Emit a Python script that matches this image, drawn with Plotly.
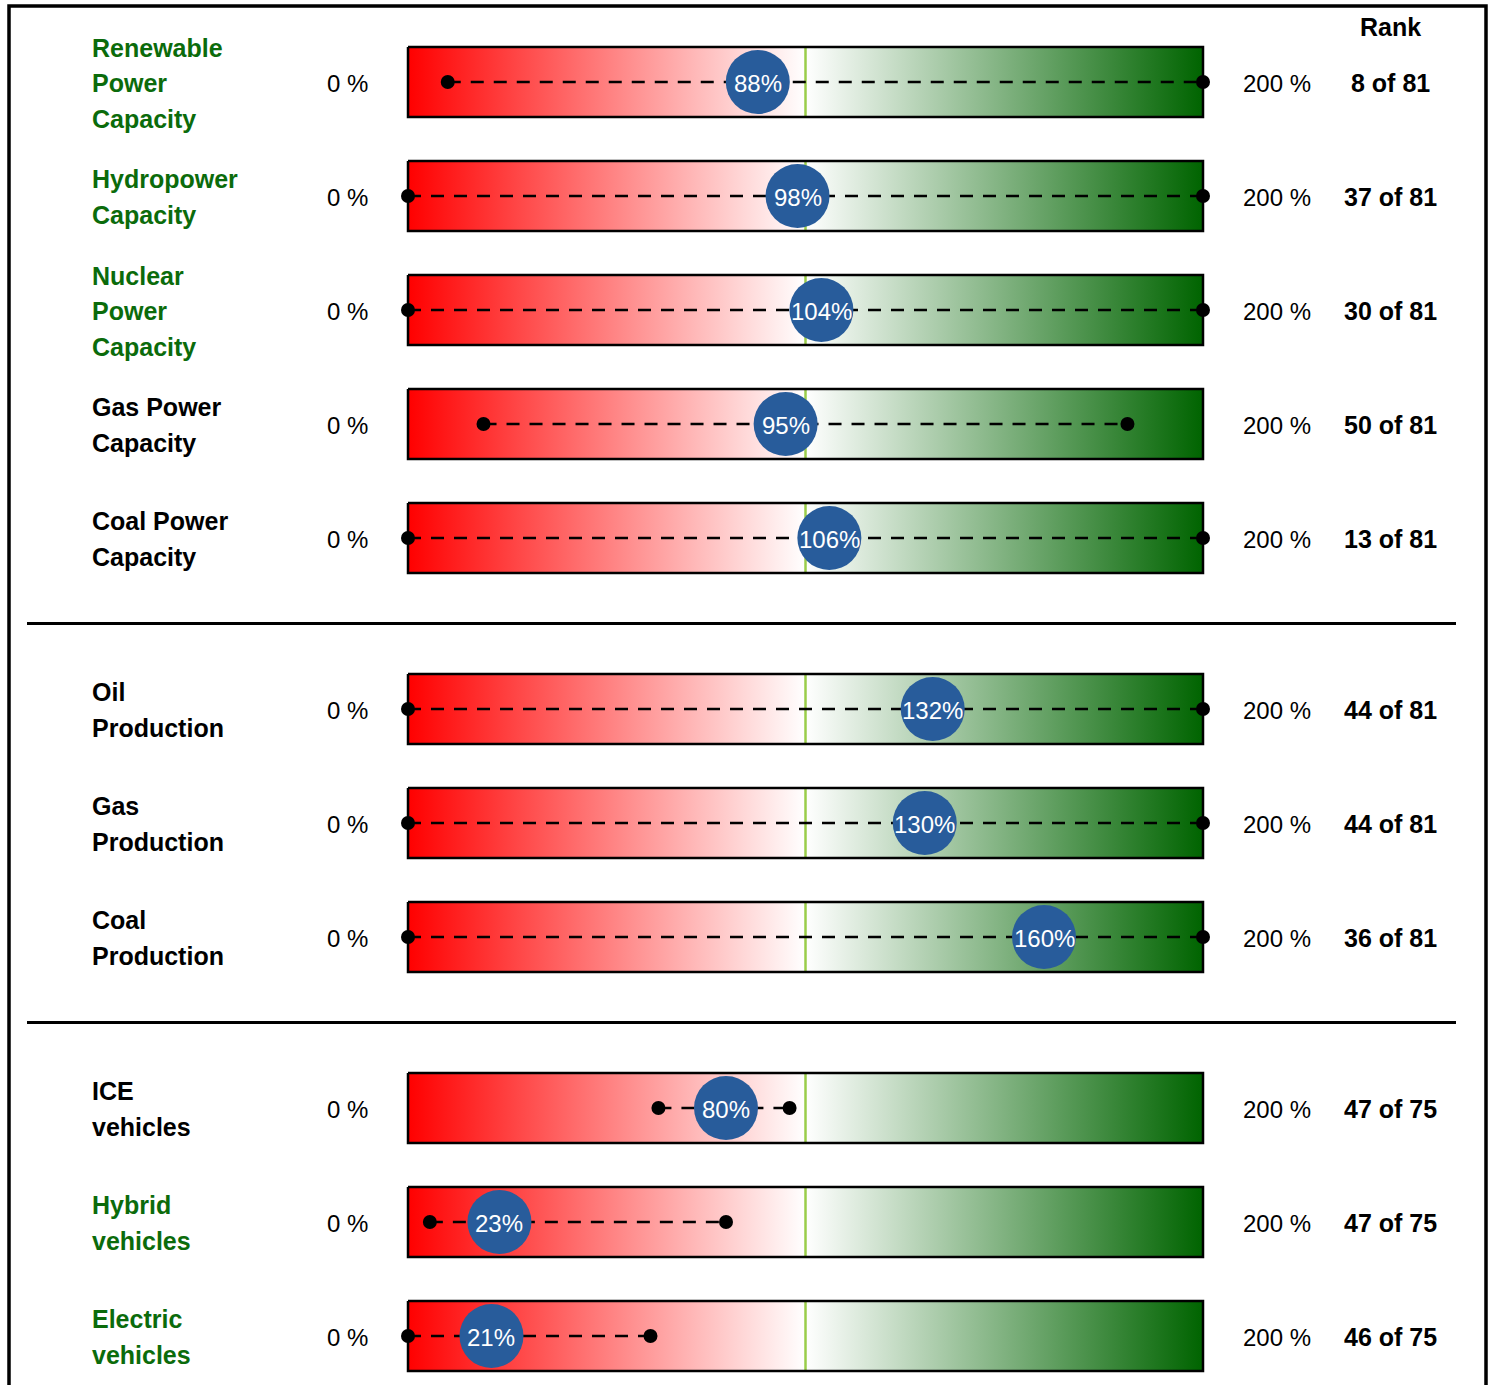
import plotly.graph_objects as go

# ---------------- data ----------------
labels = [
    "Renewable\nPower\nCapacity",
    "Hydropower\nCapacity",
    "Nuclear\nPower\nCapacity",
    "Gas Power\nCapacity",
    "Coal Power\nCapacity",
    "Oil\nProduction",
    "Gas\nProduction",
    "Coal\nProduction",
    "ICE\nvehicles",
    "Hybrid\nvehicles",
    "Electric\nvehicles",
]
groups = [0, 0, 0, 0, 0, 1, 1, 1, 2, 2, 2]
values = [88, 98, 104, 95, 106, 132, 130, 160, 80, 23, 21]
range_low = [10, 0, 0, 19, 0, 0, 0, 0, 63, 5.5, 0]
range_high = [200, 200, 200, 181, 200, 200, 200, 200, 96, 80, 61]
ranks = ["8 of 81", "37 of 81", "30 of 81", "50 of 81", "13 of 81",
         "44 of 81", "44 of 81", "36 of 81", "47 of 75", "47 of 75", "46 of 75"]
highlight = [True, True, True, False, False, False, False, False, False, True, True]
scale_min = 0
scale_max = 200
scale_mid = 100
min_label = "0 %"
max_label = "200 %"
rank_title = "Rank"

# ---------------- layout constants ----------------
W, H = 1494, 1385
BAR_L, BAR_R = 408, 1203          # pixel positions of 0% and 200%
ROW0, ROW_STEP = 82, 114          # pixel centre of first row, spacing
GROUP_GAP = 1.5
HALF = 35 / ROW_STEP              # bar half height in row units
FONT = "Liberation Sans, Arial, sans-serif"
GREEN_TXT = "#0b6b0b"
BLUE = "#285c9b"

px_per_unit = (BAR_R - BAR_L) / (scale_max - scale_min)
x_range = [scale_min - BAR_L / px_per_unit, scale_min + (W - BAR_L) / px_per_unit]
y_range = [(H - ROW0) / ROW_STEP, -ROW0 / ROW_STEP]

# row positions
pos = []
p = 0.0
for i, g in enumerate(groups):
    if i > 0:
        p += GROUP_GAP if g != groups[i - 1] else 1.0
    pos.append(p)

fig = go.Figure()

for i in range(len(labels)):
    y = pos[i]
    # gradient bar
    fig.add_trace(go.Scatter(
        x=[scale_min, scale_max, scale_max, scale_min, scale_min],
        y=[y - HALF, y - HALF, y + HALF, y + HALF, y - HALF],
        mode="lines", fill="toself", line=dict(width=0),
        fillgradient=dict(type="horizontal",
                          colorscale=[[0, "#ff0000"], [0.5, "#ffffff"], [1, "#006400"]]),
        hoverinfo="skip", showlegend=False))
    # midline
    fig.add_trace(go.Scatter(
        x=[scale_mid, scale_mid], y=[y - HALF, y + HALF], mode="lines",
        line=dict(color="#9acd4a", width=2.5), hoverinfo="skip", showlegend=False))
    # border
    fig.add_trace(go.Scatter(
        x=[scale_min, scale_max, scale_max, scale_min, scale_min],
        y=[y - HALF, y - HALF, y + HALF, y + HALF, y - HALF],
        mode="lines", line=dict(color="#000000", width=2.5),
        hoverinfo="skip", showlegend=False))
    # dashed range line with end dots
    fig.add_trace(go.Scatter(
        x=[range_low[i], range_high[i]], y=[y, y], mode="lines+markers",
        line=dict(color="#000000", width=2.5, dash="13px,10px"),
        marker=dict(color="#000000", size=14),
        hoverinfo="skip", showlegend=False))
    # value circle
    fig.add_trace(go.Scatter(
        x=[values[i]], y=[y], mode="markers",
        marker=dict(color=BLUE, size=64, line=dict(width=0)),
        hoverinfo="skip", showlegend=False))
    fig.add_annotation(x=values[i], y=y + 1.5 / ROW_STEP, xref="x", yref="y",
                       text=f"{values[i]}%", showarrow=False,
                       xanchor="center", yanchor="middle",
                       font=dict(family=FONT, size=24, color="#ffffff"))

    # left label, one annotation per line
    lines = labels[i].split("\n")
    n = len(lines)
    line_h = 35.5 / ROW_STEP
    for k, t in enumerate(lines):
        fig.add_annotation(
            x=90 / W, xref="paper", y=y + (k - (n - 1) / 2) * line_h + 1 / ROW_STEP, yref="y",
            text=f"<b>{t}</b>", showarrow=False, xanchor="left", yanchor="middle",
            font=dict(family=FONT, size=25, color=GREEN_TXT if highlight[i] else "#000000"))
    # min / max labels
    fig.add_annotation(x=347 / W, xref="paper", y=y + 1 / ROW_STEP, yref="y", text=min_label,
                       showarrow=False, xanchor="center", yanchor="middle",
                       font=dict(family=FONT, size=24, color="#000000"))
    fig.add_annotation(x=1277 / W, xref="paper", y=y + 1 / ROW_STEP, yref="y", text=max_label,
                       showarrow=False, xanchor="center", yanchor="middle",
                       font=dict(family=FONT, size=24, color="#000000"))
    fig.add_annotation(x=1390 / W, xref="paper", y=y + 1 / ROW_STEP, yref="y", text=f"<b>{ranks[i]}</b>",
                       showarrow=False, xanchor="center", yanchor="middle",
                       font=dict(family=FONT, size=25, color="#000000"))

# rank header
fig.add_annotation(x=1390 / W, xref="paper", y=(27 - ROW0) / ROW_STEP, yref="y",
                   text=f"<b>{rank_title}</b>", showarrow=False, xanchor="center", yanchor="middle",
                   font=dict(family=FONT, size=25, color="#000000"))

# group separators
for i in range(1, len(groups)):
    if groups[i] != groups[i - 1]:
        ysep = (pos[i] + pos[i - 1]) / 2
        fig.add_shape(type="line", xref="paper", yref="y", x0=27 / W, x1=1456 / W,
                      y0=ysep, y1=ysep, line=dict(color="#000000", width=3))

# outer frame (open at bottom)
fig.add_shape(type="path", xref="paper", yref="paper",
              path=f"M {9/W} -0.01 L {9/W} {1-6/H} L {1486/W} {1-6/H} L {1486/W} -0.01",
              line=dict(color="#000000", width=3.5))

fig.update_layout(
    width=W, height=H,
    margin=dict(l=0, r=0, t=0, b=0),
    plot_bgcolor="#ffffff", paper_bgcolor="#ffffff",
    xaxis=dict(range=x_range, visible=False, fixedrange=True),
    yaxis=dict(range=y_range, visible=False, fixedrange=True),
    showlegend=False,
)

fig.write_html("out.html", config={"displayModeBar": False},
               post_script="document.body.style.margin='0';document.body.style.overflow='hidden';")
